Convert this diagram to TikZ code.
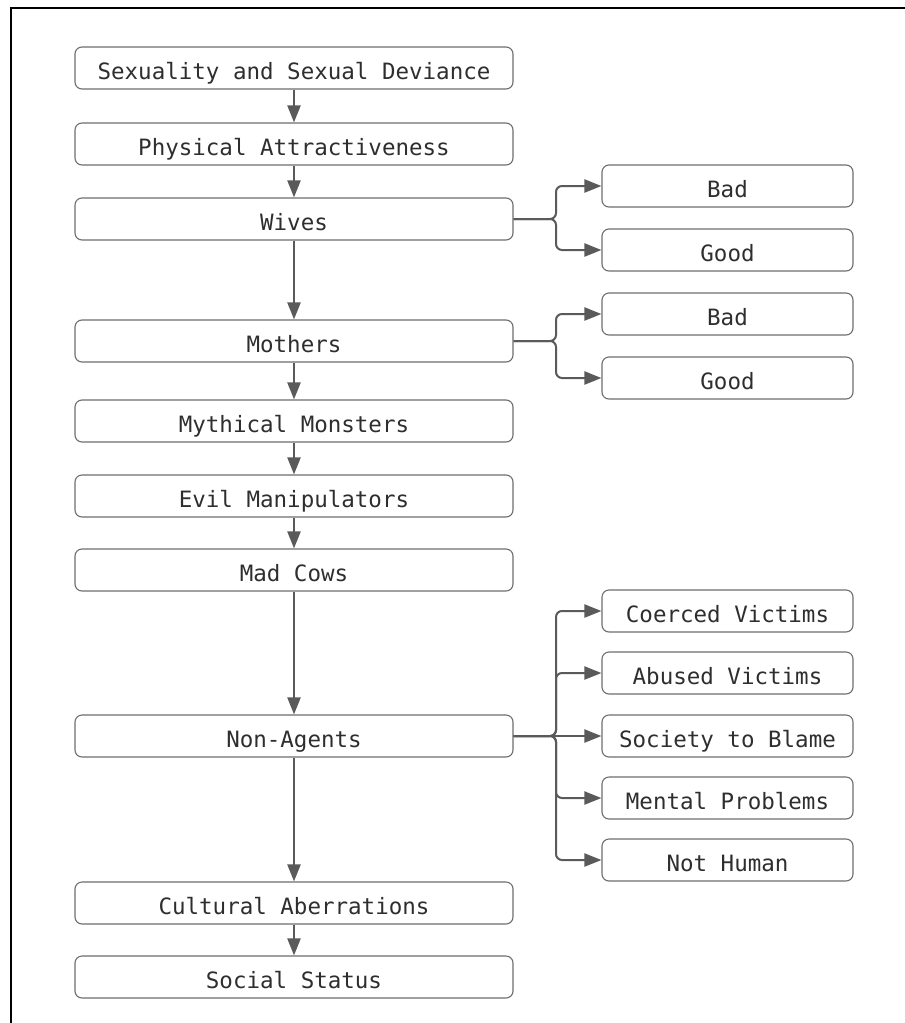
\documentclass[tikz,border=0pt]{standalone}
\usepackage{fontspec}
\setmonofont{DejaVu Sans Mono}
\usetikzlibrary{arrows.meta}
\definecolor{edge}{HTML}{5A5A5A}
\definecolor{boxline}{HTML}{6E6E6E}
\definecolor{label}{HTML}{2E2E2E}
\begin{document}
\begin{tikzpicture}[x=1pt,y=-1pt,
  box/.style={draw=boxline, line width=1.1pt, rounded corners=7pt, fill=white,
    minimum height=42pt, inner sep=0pt, text=label,
    text height=22pt, text depth=0pt,
    font=\fontsize{22.5}{27}\selectfont\ttfamily},
  mainbox/.style={box, minimum width=438pt},
  sidebox/.style={box, minimum width=251pt},
  conn/.style={draw=edge, line width=2pt, -{Triangle[length=17pt,width=13pt]}},
  branch/.style={conn, rounded corners=6pt}]
\useasboundingbox (0,0) rectangle (905,1023);
\fill[white] (0,0) rectangle (905,1023);
% outer frame
\draw[line width=2.5pt, black] (905,8) -- (11,8) -- (11,1023);

% main column
\node[mainbox] (sex)  at (294,68)  {Sexuality and Sexual Deviance};
\node[mainbox] (phys) at (294,144) {Physical Attractiveness};
\node[mainbox] (wives) at (294,219) {Wives};
\node[mainbox] (moth) at (294,341) {Mothers};
\node[mainbox] (myth) at (294,421) {Mythical Monsters};
\node[mainbox] (evil) at (294,496) {Evil Manipulators};
\node[mainbox] (mad)  at (294,570) {Mad Cows};
\node[mainbox] (non)  at (294,736) {Non-Agents};
\node[mainbox] (cult) at (294,903) {Cultural Aberrations};
\node[mainbox] (soc)  at (294,977) {Social Status};

% side branches
\node[sidebox] (wbad)  at (727.5,186) {Bad};
\node[sidebox] (wgood) at (727.5,250) {Good};
\node[sidebox] (mbad)  at (727.5,314) {Bad};
\node[sidebox] (mgood) at (727.5,378) {Good};
\node[sidebox] (coer)  at (727.5,611) {Coerced Victims};
\node[sidebox] (abus)  at (727.5,673) {Abused Victims};
\node[sidebox] (socb)  at (727.5,736) {Society to Blame};
\node[sidebox] (ment)  at (727.5,798) {Mental Problems};
\node[sidebox] (noth)  at (727.5,860) {Not Human};

% main chain
\foreach \a/\b in {sex/phys, phys/wives, wives/moth, moth/myth, myth/evil,
                   evil/mad, mad/non, non/cult, cult/soc}
  \draw[conn] (\a.south) -- (\b.north);

% branch points
\coordinate (wj) at (556,219);
\coordinate (mj) at (556,341);
\coordinate (nj) at (556,736);

\foreach \c in {wbad, wgood}
  \draw[branch] (wives.east) -- (wj) |- (\c.west);
\foreach \c in {mbad, mgood}
  \draw[branch] (moth.east) -- (mj) |- (\c.west);
\foreach \c in {coer, abus, ment, noth}
  \draw[branch] (non.east) -- (nj) |- (\c.west);
\draw[conn] (non.east) -- (socb.west);
\end{tikzpicture}
\end{document}
